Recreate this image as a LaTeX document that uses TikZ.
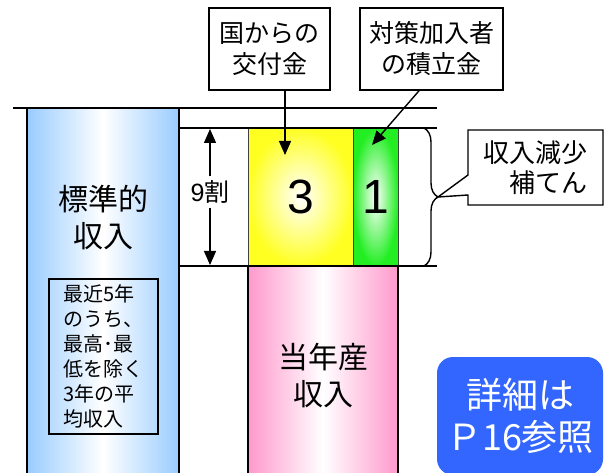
\documentclass[tikz,border=0pt]{standalone}
\usepackage{fontspec}
\setmainfont{Noto Sans CJK JP}
\newfontfamily\numfont{Liberation Sans}
\usetikzlibrary{arrows.meta,decorations.pathreplacing,shapes.callouts}
\definecolor{barblue}{HTML}{99CCFF}
\definecolor{barpink}{HTML}{FF99CC}
\definecolor{boxyellow}{HTML}{FFFF22}
\definecolor{boxgreen}{HTML}{22EE22}
\definecolor{infoblue}{HTML}{3366FF}
\begin{document}
\begin{tikzpicture}[x=1pt,y=-1pt,
    thickline/.style={line width=1.6pt},
    labelbox/.style={draw,line width=1.6pt,fill=white,align=center,inner sep=0pt,font=\fontsize{25}{31}\selectfont},
    bigtext/.style={align=center,font=\fontsize{30}{37}\selectfont},
    part/.style={draw=black!75,line width=1pt,inner sep=0pt,minimum height=138,inner color=white},
    pointer/.style={-{Triangle[length=14pt,width=12pt]},line width=1.4pt}]
                \useasboundingbox (0,0) rectangle (608,473);
                \shade[left color=barblue,right color=barblue,middle color=white] (27,108) rectangle (179,475);
                \shade[left color=barpink,right color=barpink,middle color=white] (248,266) rectangle (398,475);
                \node[part,outer color=boxyellow,minimum width=105] (three) at (300.5,197) {\numfont\fontsize{48}{48}\selectfont 3};
                \node[part,outer color=boxgreen,minimum width=45] (one) at (375.5,197) {\numfont\fontsize{48}{48}\selectfont 1};
                \draw[thickline] (13,108) -- (437,108);
                \draw[thickline] (179,128) -- (437,128);
                \draw[thickline] (179,266) -- (437,266);
                \draw[thickline] (27,108) -- (27,475);
                \draw[thickline] (179,108) -- (179,475);
                \draw[thickline] (248,266) -- (248,475);
                \draw[thickline] (398,266) -- (398,475);
                \node[bigtext] (hyojun) at (103,218) {標準的\\収入};
                \node[draw,line width=1.6pt,minimum width=109,minimum height=155,align=left,inner sep=0pt,
                    font=\fontsize{20}{25}\selectfont] (heikin) at (103.5,356.5)
                    {最近5年\\のうち、\\最高･最\\低を除く\\3年の平\\均収入};
                \node[bigtext] (tonen) at (323,376) {当年産\\収入};
                \node[font=\fontsize{25}{25}\selectfont,inner sep=4pt] (wari) at (210,192) {\numfont 9\rmfamily 割};
                \coordinate (wtop) at (210,129);
                \coordinate (wbot) at (210,265);
                \draw[pointer] (wari.north) -- (wtop);
                \draw[pointer] (wari.south) -- (wbot);
                \node[labelbox,minimum width=121,minimum height=82] (kofu) at (269.5,49) {国からの\\交付金};
                \node[labelbox,minimum width=143,minimum height=82] (tsumi) at (431.5,49) {対策加入者\\の積立金};
                \coordinate (kofutip) at (285,155);
                \coordinate (tsumitip) at (372,145);
                \draw[pointer] (kofu.south -| kofutip) -- (kofutip);
                \draw[pointer] ([xshift=-12.5pt]tsumi.south) -- (tsumitip);
                \draw[line width=1.4pt,decorate,decoration={brace,amplitude=14pt}] (424,128) -- (424,266);
                \coordinate (bracetip) at (438,197);
                \node[rectangle callout,draw,line width=1.4pt,fill=white,minimum width=135,minimum height=75,
                    inner sep=0pt,align=left,font=\fontsize{26}{30}\selectfont,
                    callout absolute pointer={(bracetip)},callout pointer width=20pt] (hoten) at (535.5,167.5) {収入減少\\　補てん};
                \node[fill=infoblue,rounded corners=16pt,minimum width=166,minimum height=118,inner sep=0pt,
                    text=white,align=center,font=\fontsize{36}{42}\selectfont] (shosai) at (520,416) {詳細は\\Ｐ16参照};
            \end{tikzpicture}
\end{document}
